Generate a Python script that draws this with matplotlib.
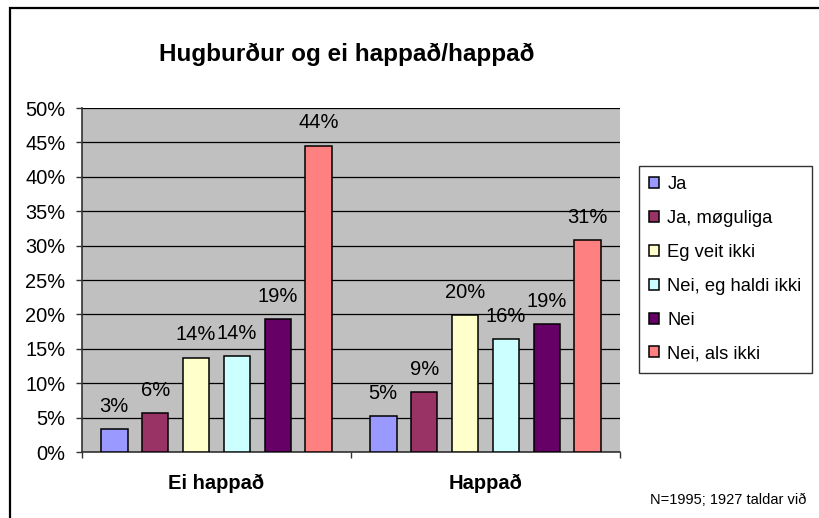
import numpy as np
import matplotlib.pyplot as plt
from matplotlib.patches import Rectangle
from matplotlib.ticker import PercentFormatter

plt.rcParams['font.family'] = ['Liberation Sans', 'DejaVu Sans']

categories = ['Ei happað', 'Happað']
answers = ['Ja', 'Ja, møguliga', 'Eg veit ikki', 'Nei, eg haldi ikki', 'Nei', 'Nei, als ikki']
colors = ['#9999FF', '#993366', '#FFFFCC', '#CCFFFF', '#660066', '#FF8080']

# percent per answer, [Ei happað, Happað]
ja = [3.3, 5.2]
ja_moguliga = [5.6, 8.7]
veit_ikki = [13.7, 19.9]
haldi_ikki = [13.9, 16.4]
nei = [19.3, 18.6]
als_ikki = [44.5, 30.8]
series = [ja, ja_moguliga, veit_ikki, haldi_ikki, nei, als_ikki]

fig = plt.figure(figsize=(8.19, 5.18), dpi=100)
ax = fig.add_axes([82 / 819, 1 - 452 / 518, (620 - 82) / 819, (452 - 108) / 518])
ax.set_facecolor('#C0C0C0')

x = np.arange(len(categories))
step = 0.152
width = 0.099
for i, (vals, name, col) in enumerate(zip(series, answers, colors)):
    pos = x + (i - 2.5) * step
    ax.bar(pos, vals, width=width, color=col, edgecolor='black', linewidth=1.1,
           label=name, zorder=3)
    for px, v in zip(pos, vals):
        ax.annotate(f'{v:.0f}%', (px, v), xytext=(0, 12.5), textcoords='offset points',
                    ha='center', va='baseline', fontsize=14.5, zorder=4)

ax.set_xlim(-0.5, 1.5)
ax.set_ylim(0, 50)
ax.set_yticks(np.arange(0, 51, 5))
ax.yaxis.set_major_formatter(PercentFormatter(decimals=0))
ax.yaxis.grid(True, color='black', linewidth=0.9, zorder=1)
ax.set_axisbelow(True)

ax.set_xticks(x)
ax.set_xticklabels(categories, fontsize=14.5, fontweight='bold')
ax.set_xticks([-0.5, 0.5, 1.5], minor=True)
ax.tick_params(axis='x', which='major', length=0, pad=16)
ax.tick_params(axis='x', which='minor', length=4, width=1, color='#333333', direction='out')
ax.tick_params(axis='y', labelsize=14.4, length=4, width=1, color='#333333', pad=8)

for side in ['top', 'right']:
    ax.spines[side].set_visible(False)
for side in ['left', 'bottom']:
    ax.spines[side].set_color('#333333')
    ax.spines[side].set_linewidth(1.2)

fig.text(347 / 819, 1 - 54 / 518, 'Hugburður og ei happað/happað', ha='center', va='center',
         fontsize=17.5, fontweight='bold')

leg = fig.legend(loc='upper left', bbox_to_anchor=(639 / 819, 1 - 166 / 518), fontsize=13.2,
                 frameon=True, fancybox=False, edgecolor='black', borderaxespad=0,
                 handlelength=0.55, handleheight=0.55, handletextpad=0.45,
                 labelspacing=0.92, borderpad=0.55)
leg.get_frame().set_linewidth(1.0)

fig.text(806 / 819, 1 - 500 / 518, 'N=1995; 1927 taldar við', ha='right', va='center', fontsize=10.5)

fig.patches.append(Rectangle((10 / 819, -0.1), 1.2, 1 - 8 / 518 + 0.1, fill=False,
                             edgecolor='black', linewidth=1.6, transform=fig.transFigure,
                             figure=fig))

fig.savefig('out.png', dpi=100)
